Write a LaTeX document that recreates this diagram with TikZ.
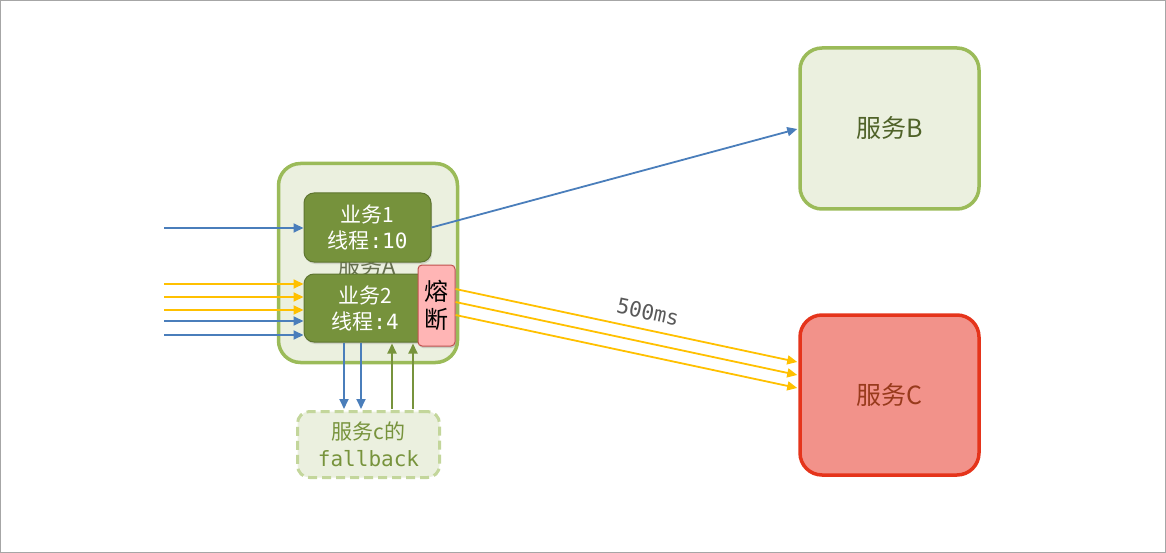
\documentclass[tikz,border=0pt]{standalone}
\usepackage{fontspec}
\setmainfont{Noto Sans CJK SC}
\setmonofont{DejaVu Sans Mono}
\usetikzlibrary{arrows.meta,calc,shadows}
\definecolor{grnfill}{HTML}{EBF0DF}
\definecolor{grnline}{HTML}{9BBB59}
\definecolor{bizfill}{HTML}{76923C}
\definecolor{bizline}{HTML}{5E7530}
\definecolor{redfill}{HTML}{F2928A}
\definecolor{redline}{HTML}{E5341B}
\definecolor{ctext}{HTML}{983A1C}
\definecolor{btext}{HTML}{4F6228}
\definecolor{atext}{HTML}{66704F}
\definecolor{blueln}{HTML}{4A7EBB}
\definecolor{yelln}{HTML}{FFC000}
\definecolor{oliveln}{HTML}{77933C}
\definecolor{fbline}{HTML}{C3D69B}
\definecolor{pinkfill}{HTML}{FFB5B5}
\definecolor{pinkline}{HTML}{C0504D}
\definecolor{lbl}{HTML}{595959}
\tikzset{
  svc/.style={draw=grnline, fill=grnfill, line width=3.5pt, rounded corners=22pt, inner sep=0pt},
  biz/.style={draw=bizline, fill=bizfill, line width=1pt, rounded corners=10pt, text=white, align=center, inner sep=0pt,
    drop shadow={opacity=0.25, shadow xshift=1pt, shadow yshift=-2pt}},
  fuse/.style={draw=pinkline, fill=pinkfill, line width=1pt, rounded corners=4pt, align=center, inner sep=0pt,
    drop shadow={opacity=0.3, shadow xshift=1pt, shadow yshift=-2pt}},
  fb/.style={draw=fbline, fill=grnfill, line width=3pt, dash pattern=on 9pt off 5pt, rounded corners=12pt, align=center, inner sep=0pt, text=oliveln},
  conn/.style={line width=1.8pt, -{Triangle[length=10pt,width=9pt]}},
  bl/.style={conn, draw=blueln, fill=blueln},
  yl/.style={conn, draw=yelln, fill=yelln},
  ol/.style={conn, draw=oliveln, fill=oliveln},
}
\begin{document}
\begin{tikzpicture}[x=1pt,y=-1pt]
\useasboundingbox (0,0) rectangle (1166,553);
\draw[gray!70, line width=1pt] (0.5,0.5) rectangle (1165.5,552.5);

% service A
\node[svc, minimum width=179pt, minimum height=199pt] (A) at (368,263) {};
\node[text=atext, font=\fontsize{22}{26}\selectfont] (Alabel) at (367,266) {服务A};

% business boxes
\node[biz, minimum width=127pt, minimum height=69pt, font=\fontsize{21}{26}\selectfont] (biz1) at (367.5,227.5) {业务1\\线程\texttt{:10}};
\node[biz, minimum width=126pt, minimum height=68pt, font=\fontsize{21}{26}\selectfont] (biz2) at (367,308) {\hspace*{-4pt}业务2\\\hspace*{-4pt}线程\texttt{:4}};
\node[fuse, minimum width=37pt, minimum height=81pt, font=\fontsize{24}{28}\selectfont] (fuse) at (436.5,305.5) {熔\\断};

% service B and C
\node[svc, minimum width=179pt, minimum height=161pt, text=btext, font=\fontsize{25}{30}\selectfont] (B) at (889.5,128.5) {服务B};
\node[svc, draw=redline, fill=redfill, minimum width=179pt, minimum height=160pt, text=ctext, font=\fontsize{25}{30}\selectfont] (C) at (889.5,395) {服务C};

% fallback
\node[fb, minimum width=142pt, minimum height=66pt, font=\fontsize{21}{27}\selectfont] (fb) at (368.5,444.5) {服务c的\\\texttt{fallback}};

% inputs
\coordinate (i1) at (164,228);
\coordinate (i2) at (164,284);
\coordinate (i3) at (164,297);
\coordinate (i4) at (164,310);
\coordinate (i5) at (164,321);
\coordinate (i6) at (164,335);
\draw[bl] (i1) -- (biz1.west |- i1);
\draw[yl] (i2) -- (biz2.west |- i2);
\draw[yl] (i3) -- (biz2.west |- i3);
\draw[yl] (i4) -- (biz2.west |- i4);
\draw[bl] (i5) -- (biz2.west |- i5);
\draw[bl] (i6) -- (biz2.west |- i6);

% to B
\draw[bl] (biz1.east) -- ($(B.west)+(-1,0.5)$);

% to C
\draw[yl] ($(fuse.east)+(0,-16.5)$) -- ($(C.west)+(-1,-33)$);
\draw[yl] ($(fuse.east)+(0,-3.5)$) -- ($(C.west)+(-1,-20)$);
\draw[yl] ($(fuse.east)+(0,9.5)$) -- ($(C.west)+(-1,-7)$);
\node[text=lbl, rotate=-12, inner sep=0pt, font=\ttfamily\fontsize{21}{24}\selectfont] (ms) at (648,312) {500ms};

% fallback arrows
\draw[bl] ($(biz2.south)+(-23,0)$) -- ($(fb.north)+(-24.5,-1)$);
\draw[bl] ($(biz2.south)+(-6,0)$) -- ($(fb.north)+(-7.5,-1)$);
\draw[ol] ($(fb.north)+(23.5,-1)$) -- ($(biz2.south)+(25,1)$);
\draw[ol] ($(fb.north)+(44.5,-1)$) -- ($(biz2.south)+(46,1)$);
\end{tikzpicture}
\end{document}
